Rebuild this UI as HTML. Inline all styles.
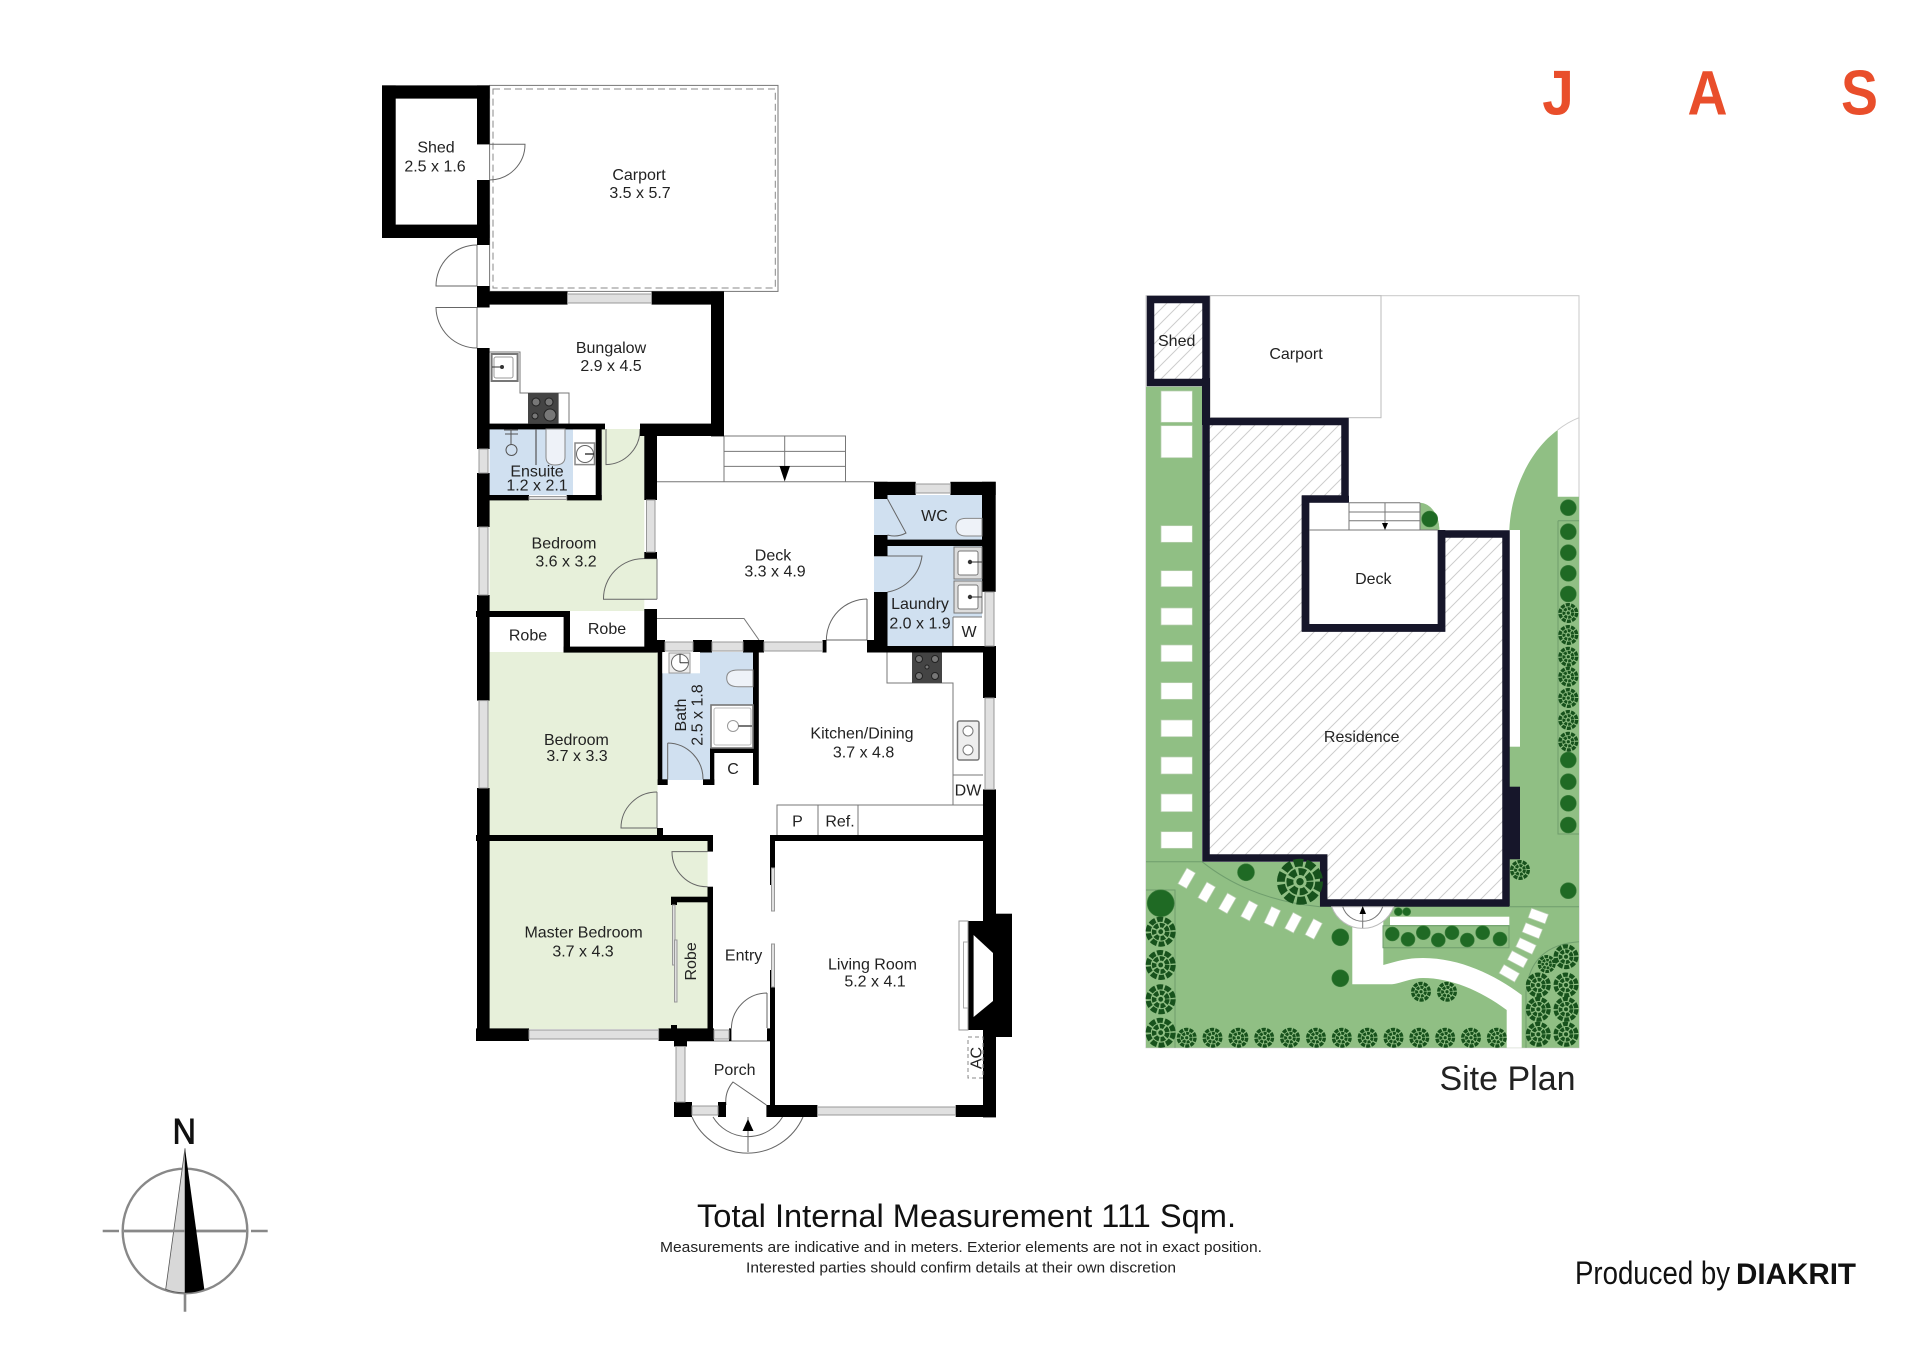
<!DOCTYPE html>
<html><head><meta charset="utf-8"><title>Floor Plan</title>
<style>
html,body{margin:0;padding:0;background:#fff}
svg{display:block}
text{font-family:"Liberation Sans",sans-serif;fill:#222;font-size:16px;text-anchor:middle;dominant-baseline:central}
.t{stroke:#777;stroke-width:1;fill:none}
.d{stroke:#666;stroke-width:1;fill:none}
.w rect{fill:#e0e0e0;stroke:#999;stroke-width:1}
.g{stroke:#6f9e6d;stroke-width:1;fill:none}
.st rect{fill:#fff;stroke:#b8cfb0;stroke-width:.7}
.r circle{fill:#1f6a24;stroke:#3e7f3e;stroke-width:.6}
</style></head><body>
<svg width="1920" height="1357" viewBox="0 0 1920 1357" xmlns="http://www.w3.org/2000/svg">
<defs>
<pattern id="h" patternUnits="userSpaceOnUse" width="14" height="14"><path d="M-2 2L2 -2M0 14L14 0M12 16L16 12" stroke="#cdcdcd" stroke-width="1"/></pattern>
<g id="b" fill="none" stroke="#17521c"><circle r="8.3" stroke-width="3.4" stroke-dasharray="4 1.2"/><circle r="4.4" stroke-width="3" stroke-dasharray="3 1"/><circle r="1.6" fill="#17521c" stroke="none"/></g>
</defs>
<rect width="1920" height="1357" fill="#fff"/>

<!-- room fills -->
<path d="M489.6 500H602V429H644.3V611H489.6Z" fill="#e7f0da"/>
<rect x="644" y="558.6" width="13" height="40.7" fill="#e7f0da"/>
<rect x="488.6" y="652" width="169" height="183" fill="#e7f0da"/>
<rect x="488.6" y="841" width="219" height="188" fill="#e7f0da"/>
<rect x="489.6" y="429" width="83.4" height="66" fill="#d0e0f0"/>
<rect x="662" y="652" width="91" height="128" fill="#d0e0f0"/>
<rect x="714" y="753" width="39" height="32" fill="#fff"/>
<rect x="874" y="495" width="108" height="45" fill="#d0e0f0"/>
<path d="M874 546H982V617H953V646H874Z" fill="#d0e0f0"/>

<!-- carport -->
<rect x="489.6" y="85.4" width="288.4" height="206" class="t" stroke="#999"/>
<rect x="493" y="89" width="282.3" height="199" fill="none" stroke="#888" stroke-width="1" stroke-dasharray="7 4"/>

<!-- thin lines -->
<path class="t" d="M657 481.8H874M724 436H845.5V481.8M724 451.4H845.5M724 466.4H845.5M784.7 436V472M724 436V481.8"/>
<path d="M779.5 466H790L784.7 481.5Z" fill="#000"/>
<path class="t" d="M489.6 352H520V393H569V423.6M656 618.5H744L759 640M887 652.5V683H953V805M887 683H912M777 835V805H983M818 805V835M858 805V835M953 775H983M687 1041H770M477 245V286M477 307.5V348M657 558.6V599.3M657 792V828"/>
<!-- doors -->
<path class="d" d="M489.6 144.3H525A35.7 35.7 0 0 1 489.6 180"/>
<path class="d" d="M477 245A41 41 0 0 0 436 286H477"/>
<path class="d" d="M477 307.5H436A41 41 0 0 0 477 348"/>
<path class="d" d="M606 429V464.6A35 35 0 0 0 640 429"/>
<path class="d" d="M657 558.6H644A40 40 0 0 0 603.5 599.3H657"/>
<path class="d" d="M887.5 499L906 533A25 25 0 0 1 887.5 535"/>
<path class="d" d="M874 556H922A42 42 0 0 1 887.5 592"/>
<path class="d" d="M867 599V640H826.4A41 41 0 0 1 867 599"/>
<path class="d" d="M667.7 743V779.3M667.7 743A36 36 0 0 1 703 779.3" stroke="#557"/>
<path class="d" d="M657 792A36 36 0 0 0 621 828H657"/>
<path class="d" d="M707.5 851.6H672A35 35 0 0 0 707.5 886.7"/>
<path class="d" d="M767 993V1028M767 993A36 36 0 0 0 731.4 1028.4"/>
<path class="d" d="M766.4 1105L733 1082A30 30 0 0 0 726 1105"/>
<path class="d" d="M692 1117A60.7 60.7 0 0 0 803 1117M713 1117A40.6 40.6 0 0 0 782.5 1117M748 1117V1152"/>
<path d="M742.5 1131H753.5L748 1119Z" fill="#000"/>

<!-- walls -->
<g fill="#000">
<rect x="382" y="85.4" width="107.6" height="13.2"/><rect x="382" y="85.4" width="13.7" height="152.6"/><rect x="382" y="224.6" width="107.6" height="13.4"/>
<rect x="477" y="85.4" width="12.6" height="59"/><rect x="477" y="180" width="12.6" height="65"/>
<rect x="477" y="286" width="12.6" height="21.5"/><rect x="489" y="291.4" width="78.5" height="13.2"/><rect x="651.6" y="291.4" width="72.4" height="13.2"/><rect x="711" y="291.4" width="13" height="145"/>
<rect x="477" y="348" width="12.6" height="101"/><rect x="477" y="473" width="12.6" height="54"/><rect x="477" y="595" width="12.6" height="105.6"/><rect x="477" y="788" width="12.6" height="253"/>
<rect x="489" y="423.6" width="116" height="5.8"/><rect x="595.7" y="429" width="6" height="71"/><rect x="489" y="495" width="40" height="5.4"/><rect x="566.7" y="495" width="35" height="5.4"/>
<rect x="640" y="423.6" width="84" height="12.4"/><rect x="644.3" y="429" width="12.7" height="71"/><rect x="644.3" y="552" width="12.7" height="6.6"/><rect x="644.3" y="609" width="12.7" height="43.5"/>
<rect x="874" y="481.8" width="41.7" height="13.2"/><rect x="950.4" y="481.8" width="45.3" height="13.2"/><rect x="982" y="481.8" width="13.7" height="110"/>
<rect x="874" y="481.8" width="13.5" height="17.2"/><rect x="874" y="535" width="13.5" height="21"/><rect x="874" y="592" width="13.5" height="60"/><rect x="887" y="539.6" width="95" height="6.4"/>
<rect x="983" y="646" width="13" height="52"/><rect x="983" y="789.4" width="13" height="328"/>
<rect x="968" y="921" width="28" height="109"/><rect x="996" y="913.7" width="16" height="123.3"/>
<rect x="476" y="611" width="94" height="6"/><rect x="563.6" y="611" width="6.4" height="41.5"/><rect x="563.6" y="646.6" width="93" height="6"/>
<rect x="655" y="640" width="10" height="12.5"/><rect x="693" y="640" width="19" height="12.5"/><rect x="743" y="640" width="21" height="12.5"/><rect x="822.5" y="640" width="4" height="12.5"/><rect x="867" y="640" width="20" height="12.5"/><rect x="887" y="646" width="96" height="6.5"/>
<rect x="657.7" y="651" width="4.6" height="134"/><rect x="657.7" y="779.3" width="10" height="5.7"/><rect x="753" y="651" width="5.8" height="134"/><rect x="703" y="779.3" width="11.3" height="5.7"/><rect x="710" y="748" width="43" height="5"/><rect x="710" y="748" width="4.3" height="37"/>
<rect x="657" y="828" width="6" height="7"/>
<rect x="476" y="835" width="237" height="6"/><rect x="707.5" y="841" width="5.5" height="10.6"/><rect x="707.5" y="886.7" width="5.5" height="144"/><rect x="671" y="896.7" width="36.5" height="5.6"/><rect x="671" y="902" width="6" height="3"/><rect x="671" y="1025" width="6" height="6"/>
<rect x="476" y="1028.4" width="53" height="12.6"/><rect x="658.6" y="1028.4" width="55.4" height="12.6"/><rect x="729" y="1028.4" width="2.4" height="12.6"/><rect x="674" y="1041" width="13" height="5.5"/>
<rect x="674" y="1102" width="18" height="15"/><rect x="718" y="1102" width="8" height="15"/><rect x="766.4" y="1105" width="51" height="12"/><rect x="955.7" y="1105" width="40" height="12"/>
<rect x="770" y="835" width="213" height="6"/><rect x="770" y="835" width="5" height="50"/><rect x="770" y="970" width="5" height="135"/><rect x="767" y="1028.4" width="8" height="12.6"/>
</g>
<path d="M973.6 935L993 953V1001L973.6 1017Z" fill="#fff"/>
<rect x="959" y="921" width="9" height="109" fill="#fff" stroke="#999"/><rect x="963.5" y="942" width="4.5" height="66" fill="#fff" stroke="#aaa"/>
<rect x="968" y="1037" width="15" height="41" fill="none" stroke="#888" stroke-dasharray="4 3"/>

<!-- windows -->
<g class="w">
<rect x="567.5" y="294" width="84" height="9"/><rect x="915.7" y="484" width="34.7" height="9"/><rect x="665" y="642" width="28" height="9"/><rect x="712" y="642" width="31" height="9"/><rect x="764" y="642" width="58.5" height="9"/><rect x="529" y="1030" width="129.6" height="9"/><rect x="714" y="1030" width="15" height="9"/><rect x="692" y="1106" width="26" height="9"/><rect x="817.5" y="1107" width="138" height="8"/>
<rect x="479" y="449" width="9" height="24"/><rect x="479" y="527" width="9" height="68"/><rect x="646.5" y="500" width="8.5" height="52"/><rect x="985" y="592" width="9" height="54"/><rect x="985" y="698" width="9" height="91.4"/><rect x="479" y="700.6" width="9" height="87.4"/><rect x="676" y="1046.5" width="9" height="55.5"/>
<rect x="771.5" y="868" width="3" height="43"/><rect x="771.5" y="944" width="3" height="43"/>
<rect x="672.5" y="905" width="2.5" height="60"/><rect x="674.5" y="940" width="2.5" height="62"/>
<rect x="529" y="496.5" width="37.7" height="3"/>
</g>

<!-- fixtures -->
<rect x="491.6" y="354" width="26" height="27" fill="#fff" stroke="#777" stroke-width="2"/><rect x="494" y="357" width="19" height="21" rx="2" fill="#fff" stroke="#999"/><circle cx="502" cy="367" r="2" fill="#333"/><path d="M492 367H502" stroke="#333"/>
<rect x="528" y="393" width="30.6" height="30.6" fill="#444"/><g fill="#777" stroke="#222"><circle cx="536" cy="402" r="4"/><circle cx="549" cy="402" r="4"/><circle cx="535" cy="416" r="3"/><circle cx="550" cy="415" r="6"/></g>
<rect x="912" y="652.5" width="30" height="30.5" fill="#444"/><g fill="#777" stroke="#222"><circle cx="919" cy="659" r="3.5"/><circle cx="935" cy="659" r="3.5"/><circle cx="919" cy="676" r="3.5"/><circle cx="935" cy="676" r="3.5"/><circle cx="927" cy="667" r="2"/></g>
<rect x="957.5" y="721" width="21.5" height="39" rx="2" fill="#eee" stroke="#777" stroke-width="1.5"/><circle cx="968" cy="731" r="5" fill="#fff" stroke="#777"/><circle cx="968" cy="750" r="5" fill="#fff" stroke="#777"/>
<circle cx="511.5" cy="450" r="5.5" fill="#d0e0f0" stroke="#555"/><path d="M511 429V445M505 434H518M504 430H518" stroke="#555" fill="none"/><path d="M536 429V465" stroke="#555" stroke-width="1.2"/>
<path d="M546 429V457Q546 465 555 465Q565 465 565 457V429Z" fill="#eef2f8" stroke="#888"/>
<rect x="575" y="443" width="19.5" height="21.6" fill="#fff" stroke="#888" stroke-width="1.5"/><circle cx="585" cy="454" r="8.5" fill="#fff" stroke="#666"/><path d="M585 454H594" stroke="#333" stroke-width="1.4"/>
<path d="M982 518.4H966Q956 518.4 956 527Q956 536 966 536H982Z" fill="#eef2f8" stroke="#888"/>
<rect x="954" y="547" width="28" height="32" fill="#ddd" stroke="#777"/><rect x="958" y="551" width="20" height="24" rx="2" fill="#fff" stroke="#777"/><circle cx="970" cy="562" r="2.2" fill="#333"/><path d="M970 562H982" stroke="#333"/>
<rect x="954" y="581" width="28" height="32" fill="#ddd" stroke="#777"/><rect x="958" y="585" width="20" height="24" rx="2" fill="#fff" stroke="#777"/><circle cx="970" cy="597" r="2.2" fill="#333"/><path d="M970 597H982" stroke="#333"/>
<rect x="953" y="617" width="30" height="29" fill="#fff"/><path d="M953 617H982M953 617V646" class="t"/>
<rect x="662.3" y="652" width="37.7" height="21.3" fill="#fff"/><rect x="669" y="653" width="21" height="20" fill="#eee" stroke="#999"/><circle cx="680" cy="662.7" r="8.5" fill="#fff" stroke="#666"/><path d="M680 662.7V654M680 662.7H688" stroke="#333"/>
<path d="M753 670H738Q726.7 670 726.7 678Q726.7 686.7 738 686.7H753Z" fill="#eef2f8" stroke="#888"/>
<rect x="711" y="705" width="42" height="43" fill="#fff" stroke="#777" stroke-width="1.6"/><rect x="714" y="708" width="37" height="37" rx="2" fill="#fff" stroke="#bbb"/><circle cx="733" cy="726" r="5.5" fill="#fff" stroke="#999"/><path d="M738 726H752" stroke="#777" stroke-width="2"/>

<!-- labels -->
<text x="436" y="148">Shed</text><text x="435" y="167">2.5 x 1.6</text>
<text x="639" y="175.4">Carport</text><text x="640" y="193.6">3.5 x 5.7</text>
<text x="611" y="348.6">Bungalow</text><text x="611" y="366.4">2.9 x 4.5</text>
<text x="537" y="472">Ensuite</text><text x="537" y="486">1.2 x 2.1</text>
<text x="564" y="544">Bedroom</text><text x="566" y="562">3.6 x 3.2</text>
<text x="773" y="556">Deck</text><text x="775" y="572">3.3 x 4.9</text>
<text x="934.5" y="516.4">WC</text>
<text x="920" y="604.6">Laundry</text><text x="920" y="624">2.0 x 1.9</text><text x="969" y="632.5">W</text>
<text x="528" y="636">Robe</text><text x="607" y="629.6">Robe</text>
<text transform="translate(681.4 715) rotate(-90)">Bath</text><text transform="translate(698 715) rotate(-90)">2.5 x 1.8</text>
<text x="733" y="769.4">C</text>
<text x="576.4" y="740.6">Bedroom</text><text x="577" y="756.5">3.7 x 3.3</text>
<text x="862" y="734">Kitchen/Dining</text><text x="863.6" y="753">3.7 x 4.8</text>
<text x="797.5" y="822">P</text><text x="840" y="822">Ref.</text><text x="968" y="791">DW</text>
<text x="583.6" y="933">Master Bedroom</text><text x="583" y="952">3.7 x 4.3</text>
<text transform="translate(691.4 961.4) rotate(-90)">Robe</text>
<text x="743.6" y="956">Entry</text>
<text x="872.5" y="965">Living Room</text><text x="875" y="982">5.2 x 4.1</text>
<text x="734.6" y="1070.6">Porch</text>
<text transform="translate(977 1058) rotate(-90)">AC</text>

<!-- SITE PLAN -->
<rect x="1146" y="295.7" width="433" height="752" fill="#fff" stroke="#c8c8c8" stroke-width="1"/>
<rect x="1146" y="386.7" width="56" height="480" fill="#90bf84"/>
<rect x="1146" y="862" width="433" height="185.7" fill="#90bf84"/>
<path d="M1509.3 530C1511 490 1530 450 1557.7 430V496.7H1579V907H1509.3Z" fill="#90bf84"/>
<path d="M1557.7 430Q1568 422 1579 417.7" fill="none" stroke="#ccc"/>
<rect x="1509.3" y="530" width="10.7" height="216.7" fill="#fff"/>
<path d="M1420 502.7A20 27 0 0 1 1439.3 530H1420Z" fill="#90bf84"/>
<rect x="1210" y="295.7" width="171" height="122" fill="#fff" stroke="#bbb"/>
<rect x="1150.5" y="299.5" width="55.5" height="83" fill="url(#h)"/>
<rect x="1150.5" y="299.5" width="55.5" height="83" fill="none" stroke="#16162a" stroke-width="7.5"/>
<path d="M1206 421.5H1345V499H1305.5V628H1441.5V534H1506V903H1323.7V858H1206Z" fill="#fff"/>
<path d="M1206 421.5H1345V499H1305.5V628H1441.5V534H1506V903H1323.7V858H1206Z" fill="url(#h)" stroke="#16162a" stroke-width="7.5"/>
<rect x="1309.3" y="502.7" width="128.4" height="121.3" fill="#fff"/>
<path d="M1202 378H1210V425H1202Z" fill="#16162a"/>
<rect x="1509" y="786.7" width="11" height="72.6" fill="#16162a"/>
<path d="M1301.7 495.7H1349V502.7H1309.3V624H1437.7V530H1445.3V631.7H1301.7Z" fill="#16162a"/>
<path d="M1420 502.7A20 27 0 0 1 1439.3 530H1420Z" fill="#90bf84"/>
<path class="t" d="M1309 530H1437.7M1349 502.7V530M1420 502.7V530M1349 502.7H1420M1349 512H1420M1349 520.7H1420M1385 502.7V524" stroke="#999"/>
<path d="M1382 523H1388L1385 530Z" fill="#000"/>
<g class="r"><circle cx="1429.7" cy="519" r="8"/></g>

<!-- stones west -->
<g class="st">
<rect x="1161" y="391" width="31.3" height="31.3"/><rect x="1161" y="425.7" width="31.3" height="32"/>
<rect x="1161" y="525.7" width="31.3" height="16.6"/><rect x="1161" y="570.7" width="31.3" height="16"/><rect x="1161" y="608" width="31.3" height="17"/><rect x="1161" y="645" width="31.3" height="16.7"/><rect x="1161" y="682.7" width="31.3" height="16.6"/><rect x="1161" y="720" width="31.3" height="16.7"/><rect x="1161" y="757" width="31.3" height="17"/><rect x="1161" y="794" width="31.3" height="17.7"/><rect x="1161" y="831.7" width="31.3" height="16.6"/>
<g><rect x="-5" y="-9" width="10" height="18" transform="translate(1186.7 878.3) rotate(30)"/><rect x="-5" y="-9" width="10" height="18" transform="translate(1206.7 892.3) rotate(30)"/><rect x="-5" y="-9" width="10" height="18" transform="translate(1227.3 903.3) rotate(30)"/><rect x="-5" y="-9" width="10" height="18" transform="translate(1249.3 910.7) rotate(28)"/><rect x="-5" y="-9" width="10" height="18" transform="translate(1272.3 916.7) rotate(25)"/><rect x="-5" y="-9" width="10" height="18" transform="translate(1293.3 922.7) rotate(28)"/><rect x="-5" y="-9" width="10" height="18" transform="translate(1313.7 929) rotate(28)"/></g>
<g><rect x="-9" y="-5" width="18" height="10" transform="translate(1538.3 916) rotate(20)"/><rect x="-9" y="-5" width="18" height="10" transform="translate(1532.3 930.7) rotate(22)"/><rect x="-9" y="-5" width="18" height="10" transform="translate(1526 946) rotate(25)"/><rect x="-9" y="-5" width="18" height="10" transform="translate(1517.7 959.3) rotate(28)"/><rect x="-9" y="-5" width="18" height="10" transform="translate(1509.3 973.3) rotate(30)"/></g>
</g>
<!-- paths -->
<path d="M1352.3 915V984.3H1390C1400 984 1410 978 1423 978C1450 978 1480 990 1506.7 1010V1047.7H1521.7V995C1495 975 1460 958 1423 958C1405 958 1395 962 1383.3 965V915Z" fill="#fff"/>
<rect x="1390" y="916.7" width="119.3" height="8.3" fill="#fff"/>
<path d="M1331.7 906.7A33 33 0 0 0 1393.7 906.7Z" fill="#fff" stroke="#bbb"/>
<path d="M1342.7 906.7A21 21 0 0 0 1382.7 906.7M1362.7 906.7V928" class="t" stroke="#aaa"/>
<path d="M1359.5 914H1366L1362.7 906Z" fill="#000"/>
<path class="g" d="M1146 861.7H1202Q1250 900 1320 906.7M1146 890H1175V1047.7M1509 906.7H1579M1383 925.7H1509V947.7H1383ZM1526 1047.7V992Q1530 945 1579 941.7M1558 520.7H1579M1558 520.7V834H1579"/>
<g class="r">
<circle cx="1568.3" cy="507.7" r="8"/><circle cx="1568.3" cy="531.7" r="8"/><circle cx="1568.3" cy="552.7" r="8"/><circle cx="1568.3" cy="573.3" r="8"/><circle cx="1568.3" cy="594" r="8"/>
<circle cx="1568.3" cy="760" r="8"/><circle cx="1568.3" cy="781.7" r="8"/><circle cx="1568.3" cy="803.3" r="8"/><circle cx="1568.3" cy="825" r="8"/>
<circle cx="1568.3" cy="890.7" r="8"/><circle cx="1246" cy="872.3" r="8.5"/>
<circle cx="1340.3" cy="937.3" r="8.5"/><circle cx="1340.3" cy="978.3" r="8.5"/>
<circle cx="1392.3" cy="934" r="7"/><circle cx="1408" cy="939.3" r="7"/><circle cx="1423.3" cy="932.7" r="7"/><circle cx="1438.3" cy="940" r="7"/><circle cx="1452" cy="932.7" r="7"/><circle cx="1467.3" cy="940" r="7"/><circle cx="1482.7" cy="932.7" r="7"/><circle cx="1500" cy="939" r="7"/>
<circle cx="1398.3" cy="911.7" r="4"/><circle cx="1406.7" cy="911.7" r="4"/>
<circle cx="1160.7" cy="903.3" r="13.5"/>
</g>
<use href="#b" transform="translate(1568.3 613)"/><use href="#b" transform="translate(1568.3 635)"/><use href="#b" transform="translate(1568.3 656.7)"/><use href="#b" transform="translate(1568.3 676.7)"/><use href="#b" transform="translate(1568.3 698)"/><use href="#b" transform="translate(1568.3 720)"/><use href="#b" transform="translate(1568.3 741.7)"/>
<use href="#b" transform="translate(1160.7 931.7) scale(1.5)"/><use href="#b" transform="translate(1160.7 965) scale(1.5)"/><use href="#b" transform="translate(1160.7 999.3) scale(1.5)"/><use href="#b" transform="translate(1160.7 1032.7) scale(1.5)"/>
<use href="#b" transform="translate(1186.7 1037.7)"/><use href="#b" transform="translate(1212.5 1037.7)"/><use href="#b" transform="translate(1238.4 1037.7)"/><use href="#b" transform="translate(1264.2 1037.7)"/><use href="#b" transform="translate(1290 1037.7)"/><use href="#b" transform="translate(1316 1037.7)"/><use href="#b" transform="translate(1341.8 1037.7)"/><use href="#b" transform="translate(1367.6 1037.7)"/><use href="#b" transform="translate(1393.5 1037.7)"/><use href="#b" transform="translate(1419.3 1037.7)"/><use href="#b" transform="translate(1445.2 1037.7)"/><use href="#b" transform="translate(1471 1037.7)"/><use href="#b" transform="translate(1496.8 1037.7)"/>
<use href="#b" transform="translate(1300 881.7) scale(2.3)"/><use href="#b" transform="translate(1520 870)"/>
<use href="#b" transform="translate(1421 991.7)"/><use href="#b" transform="translate(1447 991.7)"/>
<use href="#b" transform="translate(1566 956.7) scale(1.25)"/><use href="#b" transform="translate(1546.7 964) scale(.9)"/><use href="#b" transform="translate(1538.3 985) scale(1.25)"/><use href="#b" transform="translate(1566 985) scale(1.25)"/><use href="#b" transform="translate(1538.3 1009.3) scale(1.25)"/><use href="#b" transform="translate(1566 1009.3) scale(1.25)"/><use href="#b" transform="translate(1538.3 1034.3) scale(1.25)"/><use href="#b" transform="translate(1566 1034.3) scale(1.25)"/>

<text x="1176.7" y="341.7">Shed</text><text x="1296" y="354.3">Carport</text><text x="1373.3" y="579.3">Deck</text><text x="1361.7" y="737.7">Residence</text>
<text x="1507.5" y="1090" style="font-size:34px;dominant-baseline:alphabetic">Site Plan</text>

<!-- JAS -->
<text transform="translate(1558 114.5) scale(.9 1)" style="font-size:63px;font-weight:bold;fill:#e94e2b;dominant-baseline:alphabetic">J</text>
<text transform="translate(1707.5 114.5) scale(.88 1)" style="font-size:63px;font-weight:bold;fill:#e94e2b;dominant-baseline:alphabetic">A</text>
<text transform="translate(1859.5 114.5) scale(.88 1)" style="font-size:63px;font-weight:bold;fill:#e94e2b;dominant-baseline:alphabetic">S</text>

<!-- compass -->
<circle cx="185" cy="1231" r="62.3" fill="#fff" stroke="#888" stroke-width="2.4"/>
<path d="M102.7 1231H119M124 1231H246M251 1231H267.7M185 1293V1311.7" stroke="#888" stroke-width="2.6" fill="none"/>
<path d="M185 1148.3L165.7 1289.3Q175 1293 185 1292.7Z" fill="#d8d8d8" stroke="#555" stroke-width=".8"/>
<path d="M124 1231H246" stroke="#888" stroke-width="2.6"/>
<path d="M185 1148.3L204.3 1289.3Q195 1293 185 1292.7Z" fill="#000"/>
<text transform="translate(184.3 1143.5) scale(.92 1)" style="font-size:35px;dominant-baseline:alphabetic;fill:#111;stroke:#111;stroke-width:.9">N</text>

<!-- footer -->
<text x="966.5" y="1227" textLength="539" lengthAdjust="spacingAndGlyphs" style="font-size:32px;dominant-baseline:alphabetic;fill:#111">Total Internal Measurement 111 Sqm.</text>
<text x="961" y="1252" textLength="602" lengthAdjust="spacingAndGlyphs" style="font-size:15px;dominant-baseline:alphabetic">Measurements are indicative and in meters. Exterior elements are not in exact position.</text>
<text x="961" y="1272.7" textLength="430" lengthAdjust="spacingAndGlyphs" style="font-size:15px;dominant-baseline:alphabetic">Interested parties should confirm details at their own discretion</text>
<text x="1652.5" y="1284" textLength="155" lengthAdjust="spacingAndGlyphs" style="font-size:32px;dominant-baseline:alphabetic;fill:#111">Produced by</text>
<text x="1796" y="1284" textLength="120" lengthAdjust="spacingAndGlyphs" style="font-size:30px;font-weight:bold;dominant-baseline:alphabetic;fill:#111">DIAKRIT</text>
</svg>
</body></html>
